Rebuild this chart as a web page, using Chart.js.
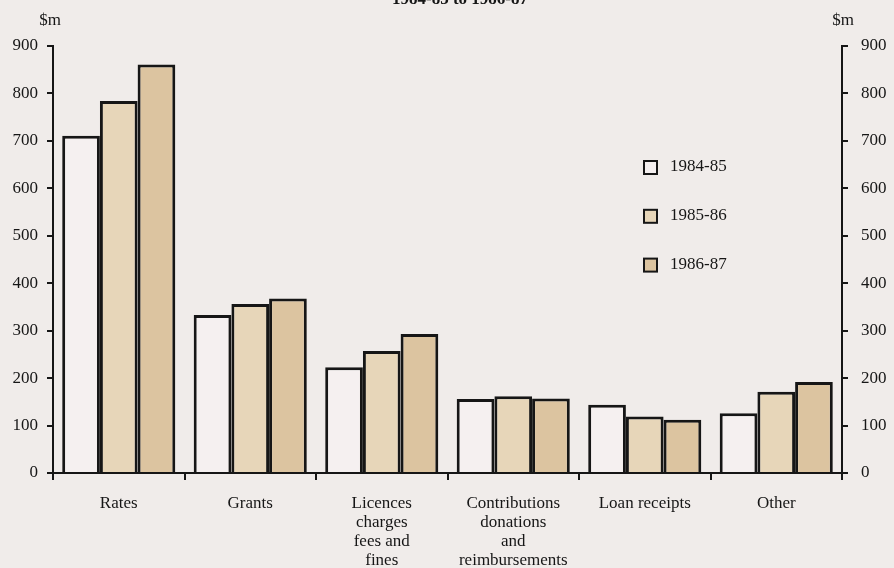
<!DOCTYPE html>
<html>
<head>
<meta charset="utf-8">
<script src="https://cdn.jsdelivr.net/npm/chart.js@4"></script>
<style>
  html, body { margin: 0; padding: 0; background: #f0ecea; }
  #wrap { width: 894px; height: 568px; position: relative; }
</style>
</head>
<body>
<div id="wrap"><canvas id="revenueChart" width="894" height="568"></canvas></div>
<script>
const categories = [
    'Rates',
    'Grants',
    ['Licences', 'charges', 'fees and', 'fines'],
    ['Contributions', 'donations', 'and', 'reimbursements'],
    'Loan receipts',
    'Other'
];
const years = ['1984-85', '1985-86', '1986-87'];
const values8485 = [711, 333, 223, 156, 144, 126];
const values8586 = [784, 356, 257, 162, 119, 171];
const values8687 = [861, 368, 293, 157, 112, 192];
const yTicks = [0, 100, 200, 300, 400, 500, 600, 700, 800, 900];

const ink = '#161616';
const serif = "'Liberation Serif', 'DejaVu Serif', serif";
const fills = ['#f5f0f0', '#e7d6b9', '#dcc4a0'];

// extra bits: clipped subtitle, $m labels, custom legend
const extras = {
    id: 'extras',
    afterDraw(chart) {
        const c = chart.ctx;
        const area = chart.chartArea;
        c.save();
        c.fillStyle = ink;
        c.font = 'bold 17px ' + serif;
        c.textAlign = 'center';
        c.textBaseline = 'alphabetic';
        c.fillText('1984-85 to 1986-87', 460, 4);

        c.font = '17px ' + serif;
        c.textBaseline = 'middle';
        c.fillText('$m', area.left - 3, 21);
        c.fillText('$m', area.right + 1, 21);

        c.textAlign = 'left';
        chart.data.datasets.forEach((ds, i) => {
            const y = 167 + i * 48.8;
            c.fillStyle = ds.backgroundColor;
            c.fillRect(644, y - 6, 13, 13);
            c.strokeStyle = ink;
            c.lineWidth = 2;
            c.strokeRect(644, y - 6, 13, 13);
            c.fillStyle = ink;
            c.fillText(ds.label, 670, y);
        });
        c.restore();
    }
};

const ctx = document.getElementById('revenueChart').getContext('2d');
new Chart(ctx, {
    type: 'bar',
    data: {
        labels: categories,
        datasets: [
            { label: years[0], data: values8485, backgroundColor: fills[0] },
            { label: years[1], data: values8586, backgroundColor: fills[1] },
            { label: years[2], data: values8687, backgroundColor: fills[2] }
        ].map(d => Object.assign(d, {
            borderColor: ink,
            borderWidth: 3,
            categoryPercentage: 0.86,
            barPercentage: 1.0,
            yAxisID: 'y'
        }))
    },
    options: {
        responsive: false,
        animation: false,
        layout: { padding: { top: 46, left: 0, right: 0, bottom: 0 } },
        plugins: {
            legend: { display: false },
            tooltip: { enabled: false }
        },
        scales: {
            x: {
                offset: true,
                grid: { offset: true, drawOnChartArea: false, drawTicks: true, tickLength: 7, color: ink, lineWidth: 2 },
                border: { color: ink, width: 2 },
                ticks: { color: ink, font: { family: serif, size: 17, lineHeight: 1.12 }, padding: 14, maxRotation: 0, autoSkip: false },
                afterFit(scale) { scale.height = 95; }
            },
            y: {
                position: 'left',
                min: 0,
                max: 900,
                afterBuildTicks(scale) { scale.ticks = yTicks.map(v => ({ value: v })); },
                grid: { drawOnChartArea: false, drawTicks: true, tickLength: 6, color: ink, lineWidth: 2 },
                border: { color: ink, width: 2 },
                ticks: { color: ink, font: { family: serif, size: 17 }, padding: 9 },
                afterFit(scale) { scale.width = 53; }
            },
            y2: {
                position: 'right',
                min: 0,
                max: 900,
                afterBuildTicks(scale) { scale.ticks = yTicks.map(v => ({ value: v })); },
                grid: { drawOnChartArea: false, drawTicks: true, tickLength: 6, color: ink, lineWidth: 2 },
                border: { color: ink, width: 2 },
                ticks: { color: ink, font: { family: serif, size: 17 }, padding: 13 },
                afterFit(scale) { scale.width = 52; }
            }
        }
    },
    plugins: [extras]
});
</script>
</body>
</html>
